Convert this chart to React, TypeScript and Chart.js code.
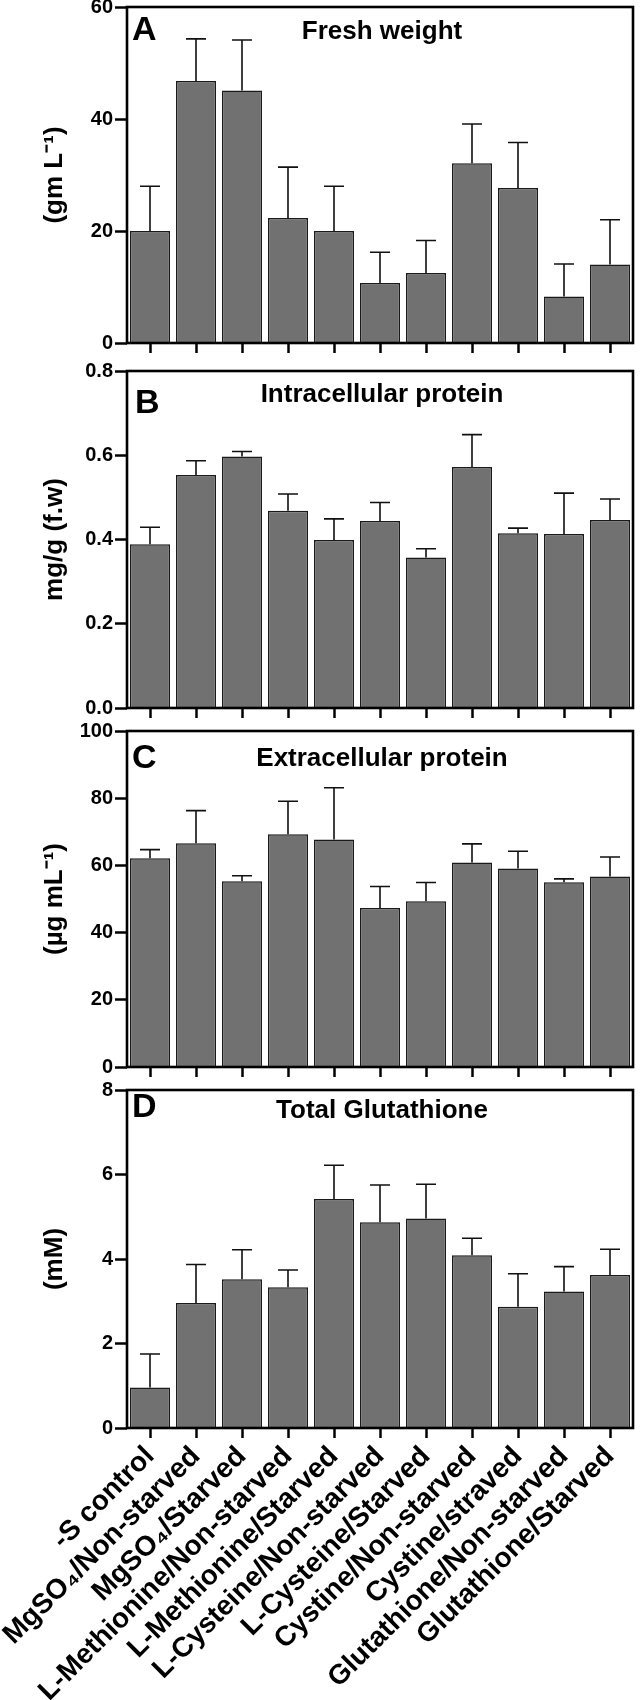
import React, { useEffect, useRef } from 'react';
import { Chart, registerables } from 'chart.js';

Chart.register(...registerables);

// ---------------- data ----------------
const categories = [
  '-S control',
  'MgSO\u2084/Non-starved',
  'MgSO\u2084/Starved',
  'L-Methionine/Non-starved',
  'L-Methionine/Starved',
  'L-Cysteine/Non-starved',
  'L-Cysteine/Starved',
  'Cystine/Non-starved',
  'Cystine/straved',
  'Glutathione/Non-starved',
  'Glutathione/Starved',
];

const freshWeight = [20.0, 46.8, 45.1, 22.3, 20.0, 10.7, 12.5, 32.1, 27.7, 8.3, 14.0];
const freshWeightErr = [8.0, 7.5, 9.0, 9.1, 8.0, 5.5, 5.8, 7.0, 8.1, 5.8, 8.0];

const intraProtein = [0.389, 0.553, 0.597, 0.468, 0.399, 0.444, 0.357, 0.572, 0.415, 0.413, 0.446];
const intraProteinErr = [0.04, 0.034, 0.012, 0.04, 0.05, 0.044, 0.021, 0.077, 0.012, 0.097, 0.05];

const extraProtein = [62.1, 66.6, 55.3, 69.3, 67.7, 47.3, 49.3, 60.9, 59.1, 55.0, 56.7];
const extraProteinErr = [2.6, 9.7, 1.6, 9.8, 15.4, 6.4, 5.6, 5.5, 5.1, 1.0, 5.8];

const glutathione = [0.96, 2.96, 3.52, 3.33, 5.42, 4.87, 4.96, 4.09, 2.87, 3.23, 3.62];
const glutathioneErr = [0.79, 0.91, 0.7, 0.41, 0.8, 0.88, 0.81, 0.4, 0.78, 0.59, 0.61];

const ticksA = [0, 20, 40, 60];
const ticksB = [0, 0.2, 0.4, 0.6, 0.8];
const ticksC = [0, 20, 40, 60, 80, 100];
const ticksD = [0, 2, 4, 6, 8];

// ---------------- styling ----------------
const FONT = '"Liberation Sans", Arial, Helvetica, sans-serif';
const BAR_FILL = '#717171';
const BAR_EDGE = '#1a1a1a';

type PanelSpec = {
  letter: string;
  title: string;
  yTitle: string;
  values: number[];
  errors: number[];
  ticks: number[];
  decimals: number;
  canvasTop: number;
  canvasHeight: number;
  xAxisHeight: number;
  showLabels: boolean;
  letterDx: number;
  letterDy: number;
  titleDy: number;
};

const panels: PanelSpec[] = [
  {
    letter: 'A', title: 'Fresh weight', yTitle: '(gm L\u207B\u00B9)',
    values: freshWeight, errors: freshWeightErr, ticks: ticksA, decimals: 0,
    canvasTop: -13, canvasHeight: 370, xAxisHeight: 12, showLabels: false,
    letterDx: 5, letterDy: 23, titleDy: 24,
  },
  {
    letter: 'B', title: 'Intracellular protein', yTitle: 'mg/g (f.w)',
    values: intraProtein, errors: intraProteinErr, ticks: ticksB, decimals: 1,
    canvasTop: 351, canvasHeight: 371, xAxisHeight: 12, showLabels: false,
    letterDx: 8, letterDy: 32, titleDy: 23,
  },
  {
    letter: 'C', title: 'Extracellular protein', yTitle: '(\u00B5g mL\u207B\u00B9)',
    values: extraProtein, errors: extraProteinErr, ticks: ticksC, decimals: 0,
    canvasTop: 711, canvasHeight: 370, xAxisHeight: 12, showLabels: false,
    letterDx: 5, letterDy: 27, titleDy: 27,
  },
  {
    letter: 'D', title: 'Total Glutathione', yTitle: '(mM)',
    values: glutathione, errors: glutathioneErr, ticks: ticksD, decimals: 0,
    canvasTop: 1070, canvasHeight: 630, xAxisHeight: 272, showLabels: true,
    letterDx: 5, letterDy: 17, titleDy: 20,
  },
];

function makeDecor(spec: PanelSpec) {
  return {
    id: 'panelDecor' + spec.letter,
    afterDatasetsDraw(chart: any) {
      const { ctx, scales } = chart;
      const x = scales.x;
      const y = scales.y;
      ctx.save();
      ctx.strokeStyle = '#111';
      ctx.lineWidth = 1.6;
      spec.values.forEach((v, i) => {
        const px = x.getPixelForValue(i);
        const y0 = y.getPixelForValue(v);
        const y1 = y.getPixelForValue(v + spec.errors[i]);
        ctx.beginPath();
        ctx.moveTo(px, y0);
        ctx.lineTo(px, y1);
        ctx.moveTo(px - 10, y1);
        ctx.lineTo(px + 10, y1);
        ctx.stroke();
      });
      ctx.restore();
    },
    afterDraw(chart: any) {
      const { ctx, chartArea } = chart;
      const { left, right, top, bottom } = chartArea;
      ctx.save();
      ctx.strokeStyle = '#000';
      ctx.lineWidth = 2.6;
      ctx.strokeRect(left, top, right - left, bottom - top);
      ctx.fillStyle = '#000';
      ctx.textBaseline = 'middle';
      ctx.textAlign = 'left';
      ctx.font = `bold 34px ${FONT}`;
      ctx.fillText(spec.letter, left + spec.letterDx, top + spec.letterDy + 1);
      ctx.textAlign = 'center';
      ctx.font = `bold 26px ${FONT}`;
      ctx.fillText(spec.title, (left + right) / 2 + 2, top + spec.titleDy + 1);
      ctx.restore();
    },
  };
}

function Panel({ spec }: { spec: PanelSpec }) {
  const ref = useRef<HTMLCanvasElement>(null);
  useEffect(() => {
    const canvas = ref.current;
    if (!canvas) return;
    const maxV = spec.ticks[spec.ticks.length - 1];
    const chart = new Chart(canvas, {
      type: 'bar',
      data: {
        labels: categories,
        datasets: [
          {
            data: spec.values,
            backgroundColor: BAR_FILL,
            borderColor: BAR_EDGE,
            borderWidth: 1.5,
            barPercentage: 0.87,
            categoryPercentage: 1,
          },
        ],
      },
      options: {
        responsive: false,
        animation: false,
        devicePixelRatio: 1,
        layout: { padding: { top: 20, left: 0, right: 7, bottom: 0 } },
        plugins: {
          legend: { display: false },
          tooltip: { enabled: false },
        },
        scales: {
          x: {
            type: 'category',
            offset: true,
            grid: {
              offset: false,
              drawOnChartArea: false,
              drawTicks: true,
              tickLength: 10,
              tickWidth: 2.5,
              tickColor: '#000',
            },
            border: { display: false },
            ticks: {
              display: spec.showLabels,
              autoSkip: false,
              minRotation: 45,
              maxRotation: 45,
              color: '#000',
              padding: 2,
              font: { family: FONT, size: 28, weight: 'bold' },
            },
            afterFit: (s: any) => {
              s.height = spec.xAxisHeight;
            },
          },
          y: {
            min: 0,
            max: maxV,
            afterBuildTicks: (s: any) => {
              s.ticks = spec.ticks.map((v) => ({ value: v }));
            },
            ticks: {
              color: '#000',
              padding: 2,
              font: { family: FONT, size: 20, weight: 'bold' },
              callback: (v: any) => Number(v).toFixed(spec.decimals),
            },
            grid: {
              drawOnChartArea: false,
              tickLength: 12,
              tickWidth: 2.5,
              tickColor: '#000',
            },
            border: { display: false },
            title: {
              display: true,
              text: spec.yTitle,
              color: '#000',
              font: { family: FONT, size: 26, weight: 'bold' },
              padding: { top: 39, bottom: 0 },
            },
            afterFit: (s: any) => {
              s.width = 127;
            },
          },
        },
      } as any,
      plugins: [makeDecor(spec)],
    });
    return () => chart.destroy();
  }, [spec]);
  return (
    <canvas
      ref={ref}
      width={640}
      height={spec.canvasHeight}
      style={{
        position: 'absolute',
        left: 0,
        top: spec.canvasTop,
        width: 640,
        height: spec.canvasHeight,
        display: 'block',
      }}
    />
  );
}

export default function App() {
  return (
    <div
      style={{
        position: 'absolute',
        left: 0,
        top: 0,
        width: 640,
        height: 1700,
        background: '#fff',
        overflow: 'hidden',
      }}
    >
      {panels.map((p) => (
        <Panel key={p.letter} spec={p} />
      ))}
    </div>
  );
}
